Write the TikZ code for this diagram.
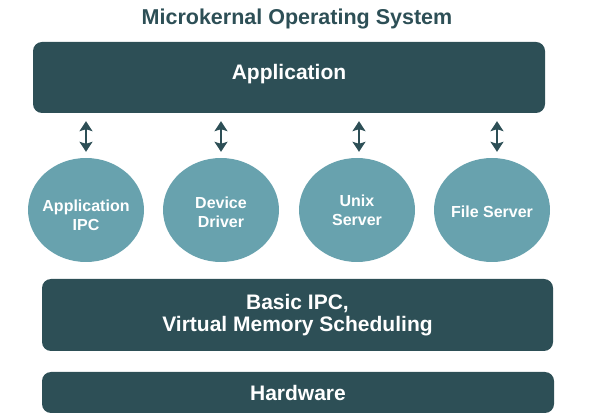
\documentclass[tikz,border=0pt]{standalone}
\usepackage{fontspec}
\setmainfont{Liberation Sans}
\usetikzlibrary{arrows.meta,shapes.geometric}
\definecolor{darkteal}{HTML}{2D4F56}
\definecolor{lightteal}{HTML}{68A2AE}
\tikzset{
  layerbox/.style={draw=none, fill=darkteal, rounded corners=9pt, text=white,
    font=\fontsize{21}{22}\selectfont\bfseries, align=center, inner sep=0pt},
  server/.style={ellipse, draw=none, fill=lightteal,
    minimum width=116pt, minimum height=104pt, inner sep=0pt},
  servertext/.style={text=white, align=center, inner sep=0pt,
    font=\fontsize{16}{19}\selectfont\bfseries},
  dbl/.style={{Stealth[width=13pt,length=10pt,inset=2pt]}-{Stealth[width=13pt,length=10pt,inset=2pt]},
    draw=darkteal, fill=darkteal, line width=1.8pt, shorten <=8pt, shorten >=6pt}
}
\begin{document}
\begin{tikzpicture}[x=1pt,y=-1pt]
\useasboundingbox (0,0) rectangle (600,419);
\node[text=darkteal, font=\fontsize{21.5}{24}\selectfont\bfseries] (title) at (297,19) {Microkernal Operating System};
\node[layerbox, minimum width=512pt, minimum height=71pt, text height=15pt, text depth=11pt] (app) at (289,77.5) {Application};
\node[server] (e1) at (86,210) {};
\node[server] (e2) at (221,210) {};
\node[server] (e3) at (357,210) {};
\node[server] (e4) at (492,210) {};
\node[servertext] (t1) at ([yshift=-5pt]e1.center) {Application\\IPC};
\node[servertext] (t2) at ([yshift=-2pt]e2.center) {Device\\Driver};
\node[servertext] (t3) at (e3.center) {Unix\\Server};
\node[servertext] (t4) at ([yshift=-2pt]e4.center) {File Server};
\coordinate (a3) at ([xshift=2pt]e3.north);
\coordinate (a4) at ([xshift=5pt]e4.north);
\draw[dbl] (app.south -| e1.north) -- (e1.north);
\draw[dbl] (app.south -| e2.north) -- (e2.north);
\draw[dbl] (app.south -| a3) -- (a3);
\draw[dbl] (app.south -| a4) -- (a4);
\node[layerbox, minimum width=511pt, minimum height=72pt] (kernel) at (297.5,315) {Basic IPC,\\Virtual Memory Scheduling};
\node[layerbox, minimum width=512pt, minimum height=41pt] (hw) at (298,392.5) {Hardware};
\end{tikzpicture}
\end{document}
